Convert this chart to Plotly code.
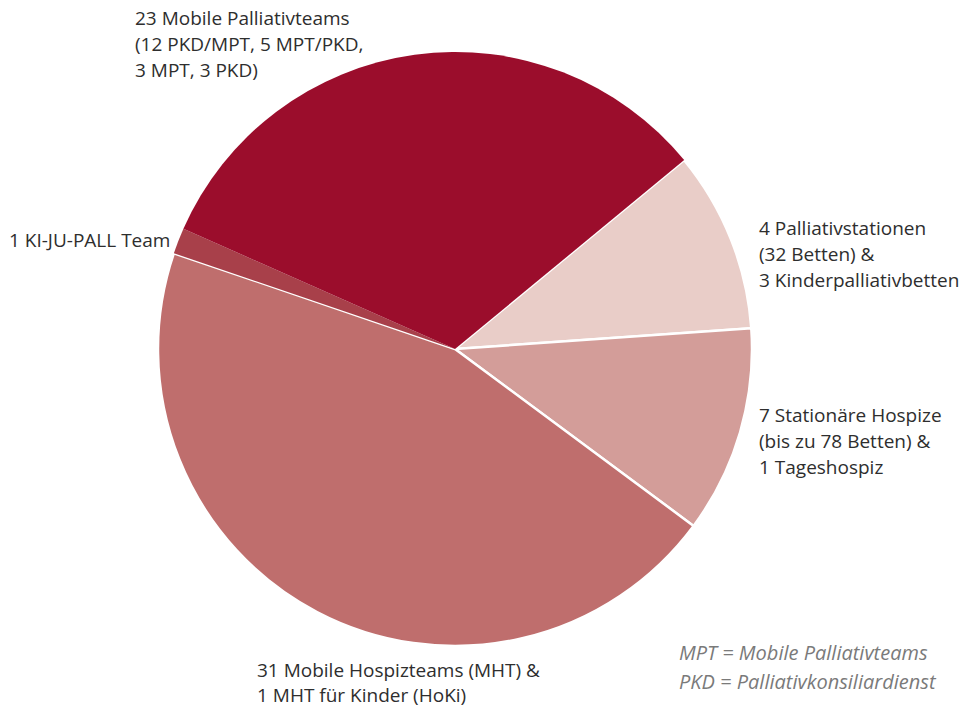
import plotly.graph_objects as go

# Slices in clockwise order, starting at the upper right
categories = [
    "Palliativstationen",
    "Stationäre Hospize",
    "Mobile Hospizteams",
    "KI-JU-PALL Team",
    "Mobile Palliativteams",
]
values = [7, 8, 32, 1, 23]
colors = ["#e9cdc8", "#d39d99", "#bf6e6d", "#a8404a", "#9b0d2c"]
border_widths = [2.5, 2.5, 2.5, 0, 0]

# Outside labels, one entry per line
label_lines = {
    "Mobile Palliativteams": ["23 Mobile Palliativteams", "(12 PKD/MPT, 5 MPT/PKD,", "3 MPT, 3 PKD)"],
    "KI-JU-PALL Team": ["1 KI-JU-PALL Team"],
    "Palliativstationen": ["4 Palliativstationen", "(32 Betten) &", "3 Kinderpalliativbetten"],
    "Stationäre Hospize": ["7 Stationäre Hospize", "(bis zu 78 Betten) &", "1 Tageshospiz"],
    "Mobile Hospizteams": ["31 Mobile Hospizteams (MHT) &", "1 MHT für Kinder (HoKi)"],
}
footnote_lines = ["MPT = Mobile Palliativteams", "PKD = Palliativkonsiliardienst"]

W, H = 973, 709
FONT = "Open Sans"

fig = go.Figure(
    go.Pie(
        labels=categories,
        values=values,
        sort=False,
        direction="clockwise",
        rotation=50.5,
        marker=dict(colors=colors, line=dict(color="white", width=border_widths)),
        textinfo="none",
        hoverinfo="label+value",
        showlegend=False,
        domain=dict(x=[158 / W, 752 / W], y=[(H - 646) / H, (H - 52) / H]),
    )
)

# label anchor (left x, first line centre y) and line spacing, in pixels
label_pos = {
    "Mobile Palliativteams": (133, 18, 26),
    "KI-JU-PALL Team": (7, 240, 26),
    "Palliativstationen": (757, 228, 26),
    "Stationäre Hospize": (757, 415, 26),
    "Mobile Hospizteams": (255, 670, 25),
}

annotations = []
for key, lines in label_lines.items():
    x0, y0, dy = label_pos[key]
    for i, line in enumerate(lines):
        annotations.append(dict(
            text=line, x=x0 / W, y=1 - (y0 + i * dy) / H,
            xref="paper", yref="paper", xanchor="left", yanchor="middle",
            showarrow=False, font=dict(family=FONT, size=19, color="#2e2e2e"),
        ))

for i, line in enumerate(footnote_lines):
    annotations.append(dict(
        text=f"<i>{line}</i>", x=677 / W, y=1 - (652 + i * 29) / H,
        xref="paper", yref="paper", xanchor="left", yanchor="middle",
        showarrow=False, font=dict(family=FONT, size=20, color="#7a7a7a"),
    ))

fig.update_layout(
    width=W, height=H,
    margin=dict(l=0, r=0, t=0, b=0),
    paper_bgcolor="white", plot_bgcolor="white",
    annotations=annotations,
)

fig.write_html("out.html")
